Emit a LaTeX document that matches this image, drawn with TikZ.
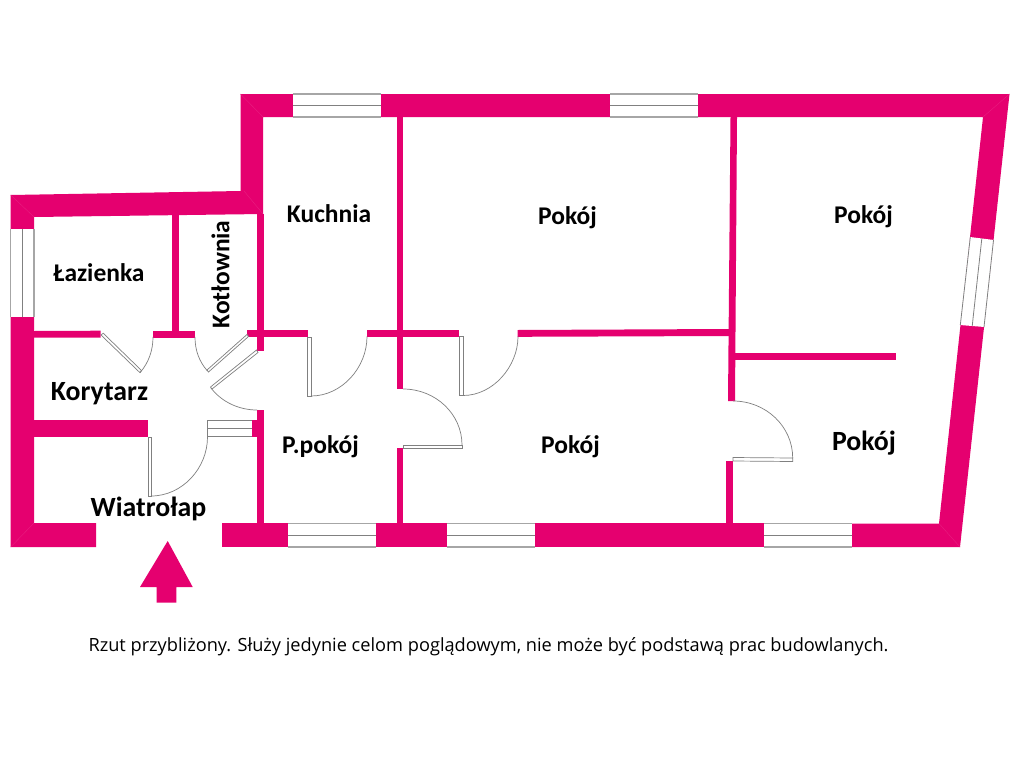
\documentclass[tikz,border=0pt]{standalone}
\usepackage{fontspec}
\setmainfont{Carlito}
\newfontfamily\notefont{Open Sans}
\definecolor{wallpink}{HTML}{E5006F}
\definecolor{mitre}{HTML}{E91E80}
\definecolor{winline}{HTML}{A6A6A6}
\definecolor{doorline}{HTML}{808080}
\tikzset{
  wall/.style={fill=wallpink,draw=none},
  mitreline/.style={draw=mitre,line width=0.4pt},
  winpane/.style={fill=white,draw=none},
  winedge/.style={draw=winline,line width=1.1pt},
  winmid/.style={draw=doorline,line width=0.8pt},
  leaf/.style={fill=white,draw=doorline,line width=0.7pt},
  swing/.style={draw=doorline,line width=0.7pt},
  label/.style={font=\bfseries\fontsize{25.5}{26}\selectfont,text=black,inner sep=0pt,anchor=center},
  biglabel/.style={label,font=\bfseries\fontsize{27.8}{28}\selectfont},
  note/.style={font=\notefont\fontsize{18.2}{20}\selectfont,text=black,inner sep=0pt,anchor=center}
}
\begin{document}
\begin{tikzpicture}[x=1pt,y=-1pt]
\useasboundingbox (0,0) rectangle (1024,768);
\fill[white] (0,0) rectangle (1024,768);
% outer walls
\fill[wall] (240.5,94) -- (1009.5,94) -- (960,547) -- (852,547) -- (852,523.5) -- (939,523.5) -- (983,117) -- (263,117) -- (263,191) -- (240.5,191) -- cycle;
\fill[wall] (10.7,195) -- (240.5,191) -- (263,191) -- (263,214) -- (34,217) -- (34,523) -- (96,523) -- (96,547) -- (10.7,547) -- cycle;
\fill[wall] (222,523) -- (852,523) -- (852,547) -- (222,547) -- cycle;
% inner walls
\fill[wall] (256.7,214) rectangle (264,351);
\fill[wall] (256.7,410) rectangle (264,523);
\fill[wall] (252,420) rectangle (257,437);
\fill[wall] (396.7,117) rectangle (403,389);
\fill[wall] (396.7,448) rectangle (403,523);
\fill[wall] (730.5,117) -- (737,117) -- (735,401) -- (728,401) -- cycle;
\fill[wall] (726,461) -- (733,461) -- (733,523) -- (726,523) -- cycle;
\fill[wall] (34,331) -- (100.5,330.7) -- (100.5,337.5) -- (34,337.7) -- cycle;
\fill[wall] (153,330.7) rectangle (195,337.5);
\fill[wall] (247,330) rectangle (307.7,336.8);
\fill[wall] (367,330) rectangle (459,336.8);
\fill[wall] (517.7,330) -- (729,329) -- (729,336) -- (517.7,336.8) -- cycle;
\fill[wall] (172,215) rectangle (179,331);
\fill[wall] (34,420) rectangle (148,437);
\fill[wall] (735,352.7) rectangle (895.7,360);
% corner mitres
\draw[mitreline] (240.5,94) -- (263,117);
\draw[mitreline] (1009.5,94) -- (983,117);
\draw[mitreline] (960,547) -- (939,523.5);
\draw[mitreline] (10.7,547) -- (34,523);
\draw[mitreline] (10.7,195) -- (34,217);
\draw[mitreline] (244,191) -- (263,214);
% windows
\fill[winpane] (293,93.5) rectangle (381,117.5);
\draw[winedge] (293,94) -- (381,94) (293,117) -- (381,117);
\draw[winmid] (293,105.5) -- (381,105.5);
\fill[winpane] (610,93.5) rectangle (698,117.5);
\draw[winedge] (610,94) -- (698,94) (610,117) -- (698,117);
\draw[winmid] (610,105.5) -- (698,105.5);
\fill[winpane] (288,523) rectangle (376,547.5);
\draw[winedge] (288,523.5) -- (376,523.5) (288,547) -- (376,547);
\draw[winmid] (288,535) -- (376,535);
\fill[winpane] (447,523) rectangle (535,547.5);
\draw[winedge] (447,523.5) -- (535,523.5) (447,547) -- (535,547);
\draw[winmid] (447,535) -- (535,535);
\fill[winpane] (764,523) rectangle (852,547.5);
\draw[winedge] (764,523.5) -- (852,523.5) (764,547) -- (852,547);
\draw[winmid] (764,535) -- (852,535);
\fill[winpane] (10.2,229) rectangle (34.5,317);
\draw[winedge] (10.7,229) -- (10.7,317) (34,229) -- (34,317);
\draw[winmid] (22.5,229) -- (22.5,317);
\fill[winpane] (969.8,237) -- (994,240) -- (984.5,327) -- (959.8,325) -- cycle;
\draw[winmid] (970.3,237) -- (960.3,325) (993.5,240) -- (984,327) (981.8,238.5) -- (972.2,326);
% jamb by the entrance
\fill[winpane] (207.5,420) rectangle (252,436.7);
\draw[winmid] (252,420) -- (207.5,420) -- (207.5,436.7) -- (252,436.7) (207.5,428.3) -- (252,428.3);
% doors
\draw[leaf] (101,335) -- (103.2,333.2) -- (141.5,370.5) -- (140,372.7) -- cycle;
\draw[swing] (140,372.7) .. controls (148.9,362.4) and (153,350) .. (153,337);
\draw[leaf] (247,334.5) -- (248.5,336.5) -- (208.5,372) -- (207,370) -- cycle;
\draw[swing] (195,337) .. controls (195,350) and (198.9,361.2) .. (207.5,371);
\draw[leaf] (256.5,350) -- (258,352.5) -- (212,389) -- (210.5,387) -- cycle;
\draw[swing] (211,388) .. controls (221.9,402.2) and (239.2,410) .. (257,410);
\draw[leaf] (148,437) rectangle (151.5,496);
\draw[swing] (151,496) .. controls (182.5,496) and (207.5,468) .. (207.5,437);
\draw[leaf] (307.7,337) rectangle (311.7,396);
\draw[swing] (311,396) .. controls (341.9,396) and (367,367.5) .. (367,336.5);
\draw[leaf] (459,336.5) rectangle (463,395.7);
\draw[swing] (463,395.5) .. controls (493.4,395.5) and (518,366) .. (518,336.5);
\draw[leaf] (403,445) rectangle (462,448);
\draw[swing] (403,389) .. controls (435.6,389) and (462,414) .. (462,445);
\draw[leaf] (733,457.5) -- (792.7,458) -- (792.7,461.5) -- (733,461) -- cycle;
\draw[swing] (733,401) .. controls (766,401) and (792.7,426.5) .. (792.7,458);
% entrance arrow
\fill[wall] (167.7,541) -- (192.7,587) -- (176.3,587) -- (176.3,602.7) -- (156.7,602.7) -- (156.7,587) -- (140,587) -- cycle;
% labels
\node[label] (kuchnia) at (329,214) {Kuchnia};
\node[label] (pokojA) at (567.5,217.5) {Pokój};
\node[label] (pokojB) at (863.5,216.5) {Pokój};
\node[label] (lazienka) at (99,272.5) {Łazienka};
\node[label,rotate=90] (kotlownia) at (220.5,274.5) {Kotłownia};
\node[biglabel] (korytarz) at (99.5,394) {Korytarz};
\node[label] (ppokoj) at (320.5,447) {P.pokój};
\node[label] (pokojC) at (570.5,447) {Pokój};
\node[biglabel] (pokojD) at (864,443) {Pokój};
\node[biglabel] (wiatrolap) at (148.5,508.5) {Wiatrołap};
\node[note] (uwaga) at (488.5,646.5) {Rzut przybliżony. Służy jedynie celom poglądowym, nie może być podstawą prac budowlanych.};
\end{tikzpicture}
\end{document}
